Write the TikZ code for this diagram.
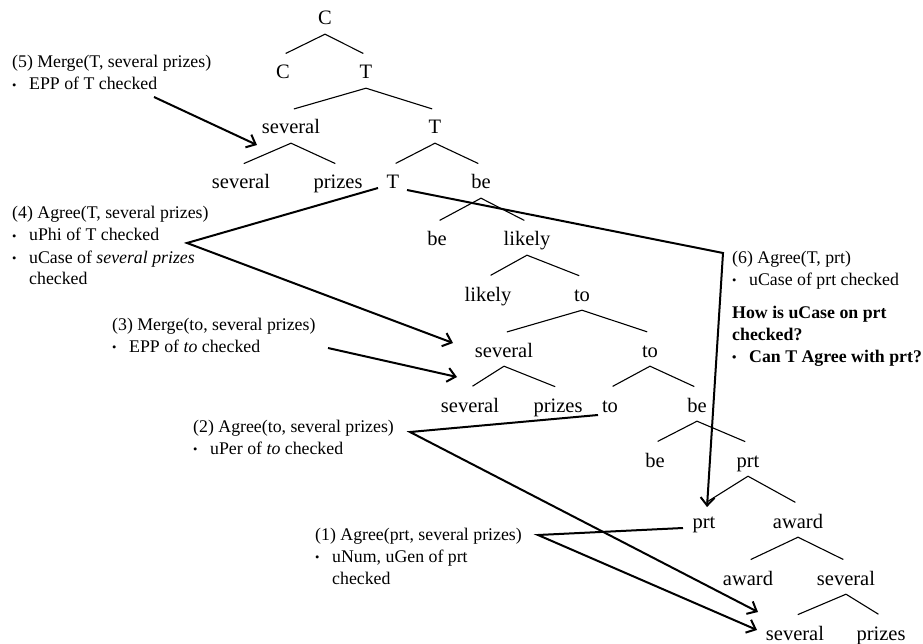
\documentclass[tikz,border=0pt]{standalone}
\usepackage{fontspec}
\setmainfont{Liberation Serif}
\usepackage{graphicx}
\usetikzlibrary{arrows.meta}
% small list bullet with a fixed hanging indent
\newcommand{\bitem}{\makebox[17pt][l]{\raisebox{0.5pt}{\scalebox{0.7}{\textbullet}}}}
\newcommand{\bskip}{\hspace*{17pt}}

\begin{document}
\begin{tikzpicture}[x=1pt,y=-1pt,
  word/.style={anchor=base,inner sep=0pt,text height=24pt,text depth=9pt,
               font=\fontsize{20.5}{24}\selectfont},
  branch/.style={line width=1.1pt,shorten >=3pt},
  note/.style={anchor=base west,inner sep=0pt,font=\fontsize{17.8}{22}\selectfont},
  link/.style={line width=2pt},
  pointer/.style={line width=2pt,-{Straight Barb[length=8pt,width=14pt]}},
]
\useasboundingbox (0,0) rectangle (923,644);

% ---- tree: rows by baseline ----
\node[word] (c0)   at (325,25)  {C};
\node[word] (c1)   at (283,79)  {C};
\node[word] (t1)   at (366,79)  {T};
\node[word] (sv1)  at (291,134) {several};
\node[word] (t2)   at (435,134) {T};
\node[word] (sv2)  at (241,189) {several};
\node[word] (pz2)  at (338,189) {prizes};
\node[word] (t3)   at (393,189) {T};
\node[word] (be1)  at (481,189) {be};
\node[word] (be2)  at (437,246) {be};
\node[word] (lk1)  at (527,246) {likely};
\node[word] (lk2)  at (488,301) {likely};
\node[word] (to1)  at (582,301) {to};
\node[word] (sv3)  at (504,357) {several};
\node[word] (to2)  at (650,357) {to};
\node[word] (sv4)  at (470,412) {several};
\node[word] (pz4)  at (558,412) {prizes};
\node[word] (to3)  at (610,412) {to};
\node[word] (be3)  at (697,412) {be};
\node[word] (be4)  at (655,467) {be};
\node[word] (prt1) at (748,467) {prt};
\node[word] (prt2) at (704,528) {prt};
\node[word] (aw1)  at (798,528) {award};
\node[word] (aw2)  at (748,585) {award};
\node[word] (sv5)  at (846,585) {several};
\node[word] (sv6)  at (795,640) {several};
\node[word] (pz6)  at (881,640) {prizes};

\foreach \p/\a/\b in {c0/c1/t1, t1/sv1/t2, sv1/sv2/pz2, t2/t3/be1, be1/be2/lk1,
                      lk1/lk2/to1, to1/sv3/to2, sv3/sv4/pz4, to2/to3/be3,
                      be3/be4/prt1, prt1/prt2/aw1, aw1/aw2/sv5, sv5/sv6/pz6}{
  \draw[branch] (\p.south) -- (\a.north);
  \draw[branch] (\p.south) -- (\b.north);
}

% ---- derivation notes ----
\node[note] (n5) at (12,68) {\begin{tabular}[t]{@{}l@{}}
  (5) Merge(T, several prizes)\\
  \bitem EPP of T checked\end{tabular}};
\node[note] (n4) at (12,219) {\begin{tabular}[t]{@{}l@{}}
  (4) Agree(T, several prizes)\\
  \bitem uPhi of T checked\\
  \bitem uCase of \textit{several prizes}\\
  \bskip checked\end{tabular}};
\node[note] (n3) at (112,330) {\begin{tabular}[t]{@{}l@{}}
  (3) Merge(to, several prizes)\\
  \bitem EPP of \textit{to} checked\end{tabular}};
\node[note] (n2) at (193,432) {\begin{tabular}[t]{@{}l@{}}
  (2) Agree(to, several prizes)\\
  \bitem uPer of \textit{to} checked\end{tabular}};
\node[note] (n1) at (315,540) {\begin{tabular}[t]{@{}l@{}}
  (1) Agree(prt, several prizes)\\
  \bitem uNum, uGen of prt\\
  \bskip checked\end{tabular}};
\node[note] (n6) at (732,263) {\begin{tabular}[t]{@{}l@{}}
  (6) Agree(T, prt)\\
  \bitem uCase of prt checked\end{tabular}};
\node[note] (nq) at (732,318) {\bfseries\begin{tabular}[t]{@{}l@{}}
  How is uCase on prt\\
  checked?\\
  \bitem Can T Agree with prt?\end{tabular}};

% ---- connector end points ----
\coordinate (s5)  at (154,97);  \coordinate (e5)  at (257,145);
\coordinate (v4)  at (187,243); \coordinate (e4a) at (378,188); \coordinate (e4b) at (453,343);
\coordinate (s3)  at (328,348); \coordinate (e3)  at (457,377);
\coordinate (v2)  at (410,432); \coordinate (e2a) at (598,415); \coordinate (e2b) at (758,612);
\coordinate (v1)  at (538,535); \coordinate (e1a) at (683,528); \coordinate (e1b) at (757,630);
\coordinate (s6)  at (407,190); \coordinate (k6)  at (723,253); \coordinate (e6)  at (707,507);

% ---- derivation arrows ----
\draw[pointer] (s5) -- (e5);
\draw[pointer] (e4a) -- (v4) -- (e4b);
\draw[pointer] (s3) -- (e3);
\draw[pointer] (e2a) -- (v2) -- (e2b);
\draw[pointer] (e1a) -- (v1) -- (e1b);
\draw[pointer] (s6) -- (k6) -- (e6);
\end{tikzpicture}
\end{document}
